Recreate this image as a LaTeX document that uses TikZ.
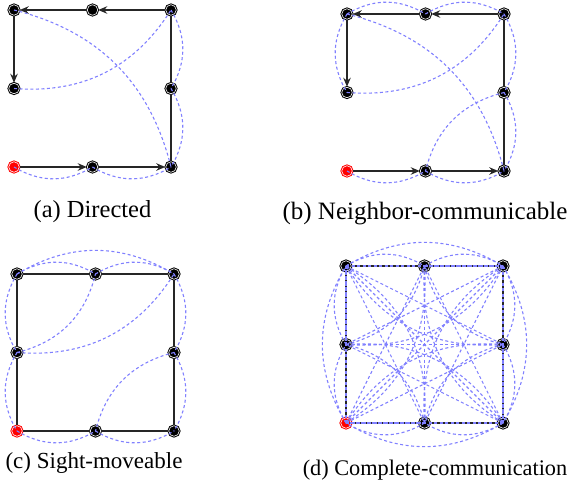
\documentclass[tikz,border=0pt]{standalone}
\usepackage{fontspec}
\setmainfont{Liberation Serif}
\usetikzlibrary{arrows.meta,positioning}

\begin{document}
\begin{tikzpicture}[x=1pt,y=-1pt,>={Stealth[length=9pt,width=7.5pt,inset=3pt]},
  dot/.style={circle,fill=black,draw=black,double=white,double distance=0.6pt,line width=1pt,minimum size=10.5pt,inner sep=0pt},
  start/.style={dot,fill=red,draw=red},
  move/.style={draw=black!85,line width=1.3pt},
  comm/.style={draw=blue!50,dash pattern=on 3pt off 2.5pt,line width=1.1pt},
  lft/.style={bend left=31},rgt/.style={bend right=31},
  subcap/.style={inner sep=0pt}]
\useasboundingbox (0,0) rectangle (572,498);
% robots on the 3x3 grid, centre cell left empty
\foreach \p/\ox/\oy in {a/14/10,b/347/14,c/17/274,d/346/266}{
  \foreach \n/\i/\j in {tl/0/0,tm/1/0,tr/2/0,ml/0/1,mr/2/1,bm/1/2,br/2/2}
    \node[dot] (\p\n) at ({\ox+78.5*\i},{\oy+78.5*\j}) {};
  \node[start] (\p bl) at (\ox,{\oy+157}) {};
}
% moves
\foreach \p in {a,b}{
  \draw[move,->] (\p tr) -- (\p tm);
  \draw[move,->] (\p tm) -- (\p tl);
  \draw[move,->] (\p tl) -- (\p ml);
  \draw[move,->] (\p bl) -- (\p bm);
  \draw[move,->] (\p bm) -- (\p br);
  \draw[move] (\p tr) -- (\p mr) -- (\p br);
}
\foreach \p in {c,d}
  \draw[move] (\p tl) -- (\p tm) -- (\p tr) -- (\p mr) -- (\p br) -- (\p bm) -- (\p bl) -- (\p ml) -- (\p tl);
% communication links
\foreach \p in {a,b}
  \foreach \u/\v/\s in {tl/br/lft,ml/tr/rgt,tr/mr/lft,mr/br/lft,bl/bm/rgt,bm/br/rgt}
    \draw[comm] (\p\u.center) to[\s] (\p\v.center);
\foreach \u/\v/\s in {tl/tm/lft,tm/tr/lft,tl/ml/rgt,mr/bm/rgt}
  \draw[comm] (b\u.center) to[\s] (b\v.center);
\foreach \u/\v/\s in {tl/tm/lft,tm/tr/lft,tl/tr/lft,tl/ml/rgt,ml/bl/rgt,ml/tm/rgt,ml/tr/rgt,tr/mr/lft,mr/br/lft,mr/bm/rgt,bl/bm/rgt,bm/br/rgt}
  \draw[comm] (c\u.center) to[\s] (c\v.center);
\foreach \u/\v/\s in {tl/tm/lft,tm/tr/lft,tl/tr/lft,tr/mr/lft,mr/br/lft,tr/br/lft,br/bm/lft,bm/bl/lft,br/bl/lft,bl/ml/lft,ml/tl/lft,bl/tl/lft,
    ml/tm/rgt,tm/mr/rgt,mr/bm/rgt,bm/ml/rgt,ml/tr/rgt,mr/bl/rgt,tm/br/rgt,bm/tl/rgt,ml/br/lft,mr/tl/lft,tm/bl/lft,bm/tr/lft}
  \draw[comm] (d\u.center) to[\s] (d\v.center);
\foreach \u/\v in {tl/tm,tm/tr,tl/tr,tr/mr,mr/br,tr/br,br/bm,bm/bl,br/bl,bl/ml,ml/tl,bl/tl,
    tl/br,tr/bl,ml/mr,tm/bm,tl/mr,tl/bm,tr/ml,tr/bm,bl/tm,bl/mr,br/tm,br/ml}
  \draw[comm] (d\u.center) -- (d\v.center);
% captions
\node[subcap,font=\fontsize{24.5}{29}\selectfont] (capa) at (92.5,212) {(a) Directed};
\node[subcap,font=\fontsize{25}{30}\selectfont] (capb) at (425,214) {(b) Neighbor-communicable};
\node[subcap,font=\fontsize{23}{28}\selectfont] (capc) at (94,463) {(c) Sight-moveable};
\node[subcap,font=\fontsize{22.3}{27}\selectfont] (capd) at (435,470) {(d) Complete-communication};
\end{tikzpicture}
\end{document}
